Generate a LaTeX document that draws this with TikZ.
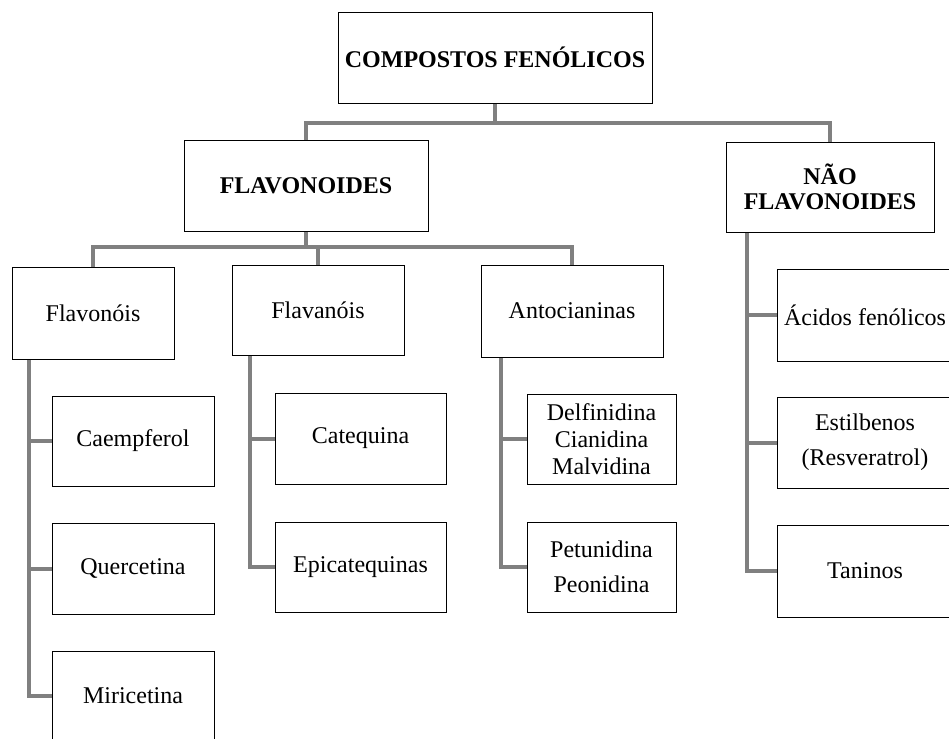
\documentclass[tikz,border=0pt]{standalone}
\usepackage{fontspec}
\setmainfont{Liberation Serif}
\usetikzlibrary{backgrounds}
\definecolor{linegray}{RGB}{128,128,128}
\begin{document}
\begin{tikzpicture}[x=1pt,y=-1pt,
  box/.style={draw=black,line width=0.9pt,fill=white,inner sep=0pt,align=center,
    font=\fontsize{24}{27}\selectfont},
  wide/.style={font=\fontsize{24}{35}\selectfont},
  conn/.style={draw=linegray,line width=4pt}]
\clip (0,0) rectangle (949,738);
\useasboundingbox (0,0) rectangle (949,738);
% level 0
\node[box,minimum width=314pt,minimum height=91pt] (top) at (495,57.5) {\textbf{COMPOSTOS FENÓLICOS}};
% level 1
\node[box,minimum width=244pt,minimum height=91pt] (flav) at (306,185.5) {\textbf{FLAVONOIDES}};
\node[box,minimum width=208pt,minimum height=90pt,font=\fontsize{24}{25.5}\selectfont] (nao) at (830,187) {\textbf{NÃO}\\\textbf{FLAVONOIDES}};
% level 2
\node[box,minimum width=162pt,minimum height=92pt] (flavonois) at (93,313) {Flavonóis};
\node[box,minimum width=172pt,minimum height=90pt] (flavanois) at (318,310) {Flavanóis};
\node[box,minimum width=182pt,minimum height=92pt] (antoc) at (572,311) {Antocianinas};
\node[box,minimum width=176pt,minimum height=92pt] (acidos) at (865,315) {Ácidos fenólicos};
% level 3
\node[box,minimum width=162pt,minimum height=90pt] (caemp) at (133,441) {Caempferol};
\node[box,minimum width=162pt,minimum height=91pt] (querc) at (133,568.5) {Quercetina};
\node[box,minimum width=162pt,minimum height=90pt] (miric) at (133,696) {Miricetina};
\node[box,minimum width=171pt,minimum height=91pt] (catq) at (360.5,438.5) {Catequina};
\node[box,minimum width=171pt,minimum height=90pt] (epicat) at (360.5,567) {Epicatequinas};
\node[box,minimum width=149pt,minimum height=90pt] (delf) at (601.5,439) {Delfinidina\\Cianidina\\Malvidina};
\node[box,wide,minimum width=149pt,minimum height=90pt] (petun) at (601.5,567) {Petunidina\\Peonidina};
\node[box,wide,minimum width=176pt,minimum height=91pt] (estil) at (865,442.5) {Estilbenos\\(Resveratrol)};
\node[box,minimum width=176pt,minimum height=92pt] (tanin) at (865,571) {Taninos};
% junction coordinates
\coordinate (j0) at (0,123);
\coordinate (j1) at (0,247);
\coordinate (vflavonois) at (29,0);
\coordinate (vflavanois) at (250,0);
\coordinate (vantoc) at (501,0);
\coordinate (vnao) at (747,0);
\begin{scope}[on background layer]
\draw[conn] (top.south) -- (top.south |- j0) -| (flav.north);
\draw[conn] (top.south |- j0) -| (nao.north);
\draw[conn] (flav.south) -- (flav.south |- j1) -| (flavonois.north);
\draw[conn] (flav.south |- j1) -| (flavanois.north);
\draw[conn] (flav.south |- j1) -| (antoc.north);
% flavonois children
\draw[conn] (flavonois.south -| vflavonois) |- (miric.west);
\draw[conn] (vflavonois |- caemp.west) -- (caemp.west);
\draw[conn] (vflavonois |- querc.west) -- (querc.west);
% flavanois children
\draw[conn] (flavanois.south -| vflavanois) |- (epicat.west);
\draw[conn] (vflavanois |- catq.west) -- (catq.west);
% antocianinas children
\draw[conn] (antoc.south -| vantoc) |- (petun.west);
\draw[conn] (vantoc |- delf.west) -- (delf.west);
% nao flavonoides children
\draw[conn] (nao.south -| vnao) |- (tanin.west);
\draw[conn] (vnao |- acidos.west) -- (acidos.west);
\draw[conn] (vnao |- estil.west) -- (estil.west);
\end{scope}
\end{tikzpicture}
\end{document}
